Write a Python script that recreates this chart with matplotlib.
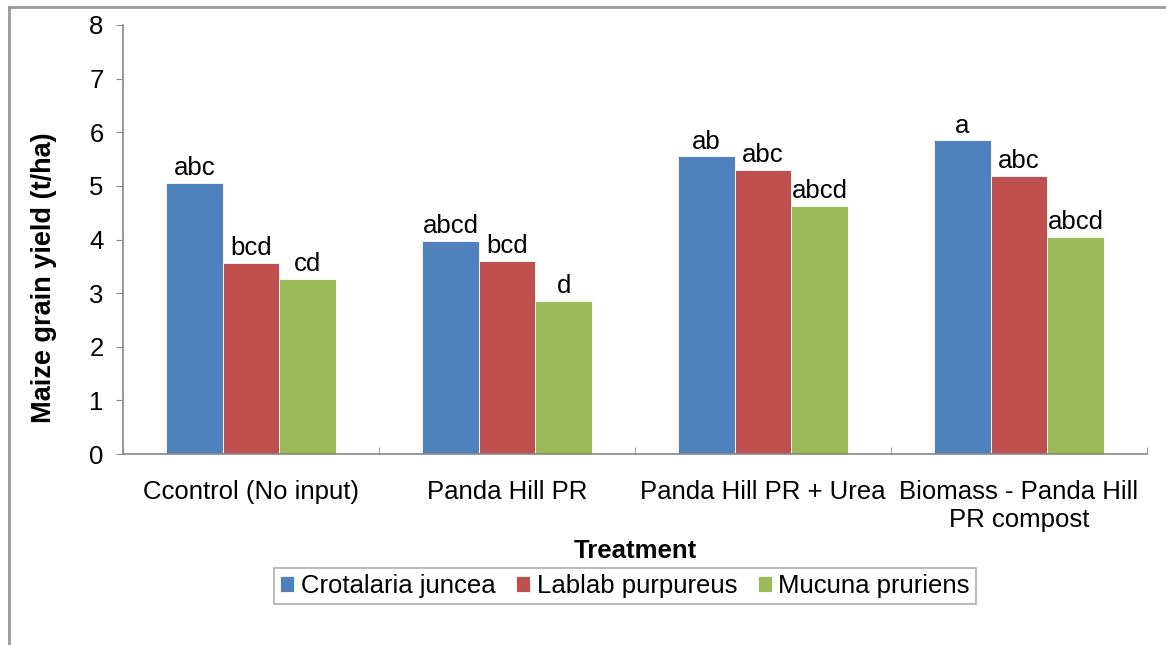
import numpy as np
import matplotlib.pyplot as plt
from matplotlib.lines import Line2D

plt.rcParams['font.family'] = ['Liberation Sans', 'DejaVu Sans']

# Data
treatments = ['Ccontrol (No input)', 'Panda Hill PR', 'Panda Hill PR + Urea',
              'Biomass - Panda Hill\nPR compost']
species = ['Crotalaria juncea', 'Lablab purpureus', 'Mucuna pruriens']
crotalaria = [5.06, 3.97, 5.55, 5.85]
lablab = [3.56, 3.60, 5.30, 5.19]
mucuna = [3.26, 2.85, 4.63, 4.05]
letters_crot = ['abc', 'abcd', 'ab', 'a']
letters_lab = ['bcd', 'bcd', 'abc', 'abc']
letters_muc = ['cd', 'd', 'abcd', 'abcd']

colors = ['#4F81BD', '#C0504D', '#9BBB59']
series = [crotalaria, lablab, mucuna]
letters = [letters_crot, letters_lab, letters_muc]

fs = 18.5

fig = plt.figure(figsize=(11.66, 6.45), dpi=100)
ax = fig.add_axes([123 / 1166, 1 - 454 / 645, 1024 / 1166, 429 / 645])

x = np.arange(len(treatments))
w = 0.221
for i, (vals, lab, col, let) in enumerate(zip(series, species, colors, letters)):
    pos = x + (i - 1) * w
    bars = ax.bar(pos, vals, w, color=col, label=lab, edgecolor='white', linewidth=0.6)
    for b, t in zip(bars, let):
        ax.annotate(t, (b.get_x() + b.get_width() / 2, b.get_height()),
                    xytext=(0, 2), textcoords='offset points',
                    ha='center', va='bottom', fontsize=fs)

ax.set_xlim(-0.5, len(treatments) - 0.5)
ax.set_ylim(0, 8)
ax.set_yticks(range(0, 9))
ax.set_xticks(x)
ax.set_xticklabels(treatments, fontsize=fs, linespacing=1.18)
ax.set_xticks(np.arange(-0.5, len(treatments)), minor=True)
ax.tick_params(axis='x', which='major', length=0, pad=19)
ax.tick_params(axis='x', which='minor', length=5, color='#888888', direction='in')
ax.tick_params(axis='y', labelsize=fs, length=5, color='#888888', pad=9)
for s in ['top', 'right']:
    ax.spines[s].set_visible(False)
for s in ['left', 'bottom']:
    ax.spines[s].set_color('#888888')
    ax.spines[s].set_linewidth(1.2)

ax.set_ylabel('Maize grain yield (t/ha)', fontsize=19.5, fontweight='bold')
ax.yaxis.set_label_coords(-0.064, 0.41)
ax.set_xlabel('Treatment', fontsize=fs, fontweight='bold', labelpad=5)

leg = ax.legend(loc='center', bbox_to_anchor=(625 / 1166, 1 - 586 / 645),
                bbox_transform=fig.transFigure, ncol=3, fontsize=fs,
                frameon=True, fancybox=False, handlelength=0.55, handleheight=0.55,
                handletextpad=0.25, columnspacing=0.8, borderpad=0.25)
leg.get_frame().set_edgecolor('#999999')
leg.get_frame().set_linewidth(1.2)

# outer chart border
fig.add_artist(Line2D([9 / 1166, 9 / 1166], [0, 1 - 7 / 645], transform=fig.transFigure,
                      color='#999999', lw=2))
fig.add_artist(Line2D([9 / 1166, 1], [1 - 7 / 645, 1 - 7 / 645], transform=fig.transFigure,
                      color='#999999', lw=2))

fig.savefig('out.png', dpi=100)
